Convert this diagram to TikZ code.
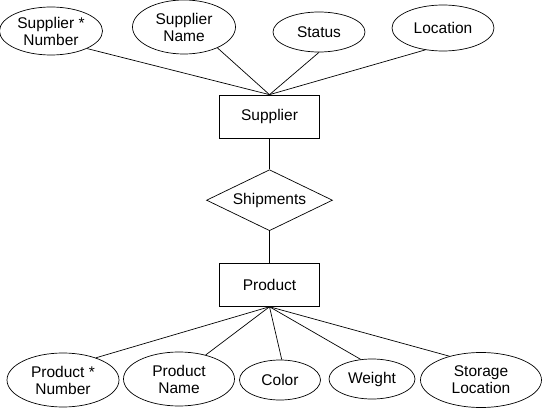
\documentclass[tikz,border=0pt]{standalone}
\usepackage{fontspec}
\setmainfont{Liberation Sans}
\usetikzlibrary{positioning, shapes.geometric}

\begin{document}
\begin{tikzpicture}[x=1pt, y=1pt, line width=0.7pt,
		every node/.style={font=\fontsize{15.5}{17}\selectfont, align=center},
		ent/.style={draw, rectangle, minimum width=100pt, minimum height=43pt},
		rel/.style={draw, diamond, aspect=2.07, inner sep=0pt, minimum width=126pt, minimum height=61pt},
		attr/.style={draw, ellipse, inner sep=0pt}]
	\useasboundingbox (0,0) rectangle (542,408);
	% entities and relationship
	\node[ent] (sup) at (269.5,291.5) {Supplier};
	\node[rel, below=31pt of sup] (ship) {Shipments};
	\node[ent, below=32pt of ship] (prod) {Product};
	% supplier attributes
	\node[attr, minimum width=103pt, minimum height=48pt] (snum) at (51,377) {Supplier *\\Number};
	\node[attr, minimum width=103pt, minimum height=54pt] (sname) at (184,381) {Supplier\\Name};
	\node[attr, minimum width=92pt, minimum height=40pt] (stat) at (319,376) {Status};
	\node[attr, minimum width=102pt, minimum height=46pt] (sloc) at (443,380) {Location};
	% product attributes
	\node[attr, minimum width=112pt, minimum height=54pt] (pnum) at (63,28) {Product *\\Number};
	\node[attr, minimum width=111pt, minimum height=54pt] (pname) at (179,29) {Product\\Name};
	\node[attr, minimum width=81pt, minimum height=40pt] (pcol) at (280,28) {Color};
	\node[attr, minimum width=86pt, minimum height=40pt] (pwt) at (372,29) {Weight};
	\node[attr, minimum width=121pt, minimum height=55pt] (pstor) at (481,28) {Storage\\Location};
	% connectors
	\draw (sup) -- (ship) -- (prod);
	\draw (sup.north) -- (snum.-26);
	\draw (sup.north) -- (sname.-32);
	\draw (sup.north) -- (stat.south);
	\draw (sup.north) -- (sloc.-129);
	\draw (prod.south) -- (pnum.34);
	\draw (prod.south) -- (pname.42);
	\draw (prod.south) -- (pcol.85);
	\draw (prod.south) -- (pwt.120);
	\draw (prod.south) -- (pstor.143);
\end{tikzpicture}
\end{document}
